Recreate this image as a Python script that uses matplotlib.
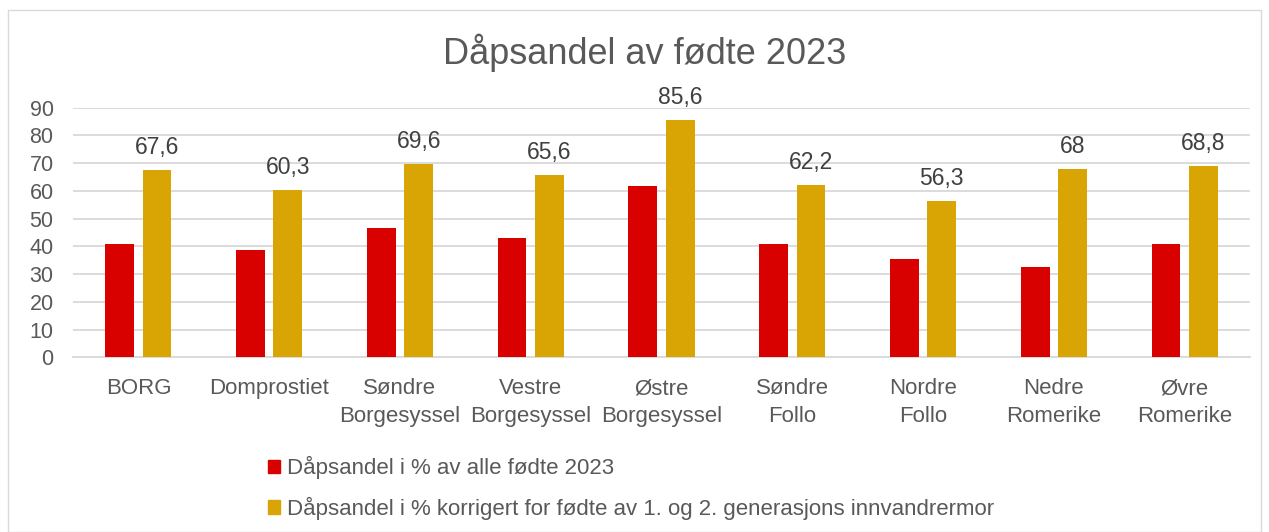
import matplotlib
matplotlib.use("Agg")
import matplotlib.pyplot as plt
from matplotlib.patches import Rectangle, Patch
import numpy as np

plt.rcParams['font.family'] = ['Liberation Sans', 'DejaVu Sans']

categories = ["BORG", "Domprostiet", "Søndre\nBorgesyssel", "Vestre\nBorgesyssel",
              "Østre\nBorgesyssel", "Søndre\nFollo", "Nordre\nFollo", "Nedre\nRomerike",
              "Øvre\nRomerike"]
alle_fodte = [40.8, 38.6, 46.8, 43.1, 61.7, 40.7, 35.6, 32.4, 40.7]
korrigert = [67.6, 60.3, 69.6, 65.6, 85.6, 62.2, 56.3, 68.0, 68.8]
series_names = ["Dåpsandel i % av alle fødte 2023",
                "Dåpsandel i % korrigert for fødte av 1. og 2. generasjons innvandrermor"]
yticks = [0, 10, 20, 30, 40, 50, 60, 70, 80, 90]
title = "Dåpsandel av fødte 2023"

RED = "#D90000"
GOLD = "#D9A505"
TXT = "#595959"
GRID = "#D9D9D9"

fig = plt.figure(figsize=(12.69, 5.32), dpi=100)
fig.patches.append(Rectangle((8/1269, 0.0), 1 - 16/1269, 1 - 10/532, transform=fig.transFigure,
                             fill=False, edgecolor="#D9D9D9", linewidth=1.0))

ax = fig.add_axes([73/1269, 1 - 357.3/532, (1250 - 73)/1269, (357.3 - 107.7)/532])
x = np.arange(len(categories))
w = 0.22
off = 0.143
b1 = ax.bar(x - off, alle_fodte, w, color=RED, zorder=3)
b2 = ax.bar(x + off, korrigert, w, color=GOLD, zorder=3)
labels = [f"{v:g}".replace('.', ',') for v in korrigert]
ax.bar_label(b2, labels=labels, padding=8, fontsize=16.5, color="#404040")

ax.set_xlim(-0.5, len(categories) - 0.5)
ax.set_ylim(0, 90)
ax.set_yticks(yticks)
ax.set_yticklabels([str(t) for t in yticks])
ax.yaxis.grid(True, color=GRID, linewidth=1.3, zorder=0)
ax.set_axisbelow(True)
ax.set_xticks(x)
ax.set_xticklabels(categories, linespacing=1.45)
ax.tick_params(axis='y', length=0, pad=14, labelsize=15.5, labelcolor=TXT)
ax.tick_params(axis='x', length=0, pad=15, labelsize=16, labelcolor=TXT)
for s in ["top", "right", "left"]:
    ax.spines[s].set_visible(False)
ax.spines["bottom"].set_color(GRID)
ax.spines["bottom"].set_linewidth(1.3)

fig.text(645/1269, 1 - 53/532, title, ha="center", va="center", fontsize=26, color=TXT)

handles = [Patch(color=RED), Patch(color=GOLD)]
leg = fig.legend(handles, series_names, loc="upper left",
                 bbox_to_anchor=(248/1269, 1 - 436/532), frameon=False,
                 fontsize=16, labelcolor=TXT, handlelength=0.55, handleheight=0.55,
                 handletextpad=0.3, labelspacing=0.8)

fig.savefig("out.png", dpi=100)
